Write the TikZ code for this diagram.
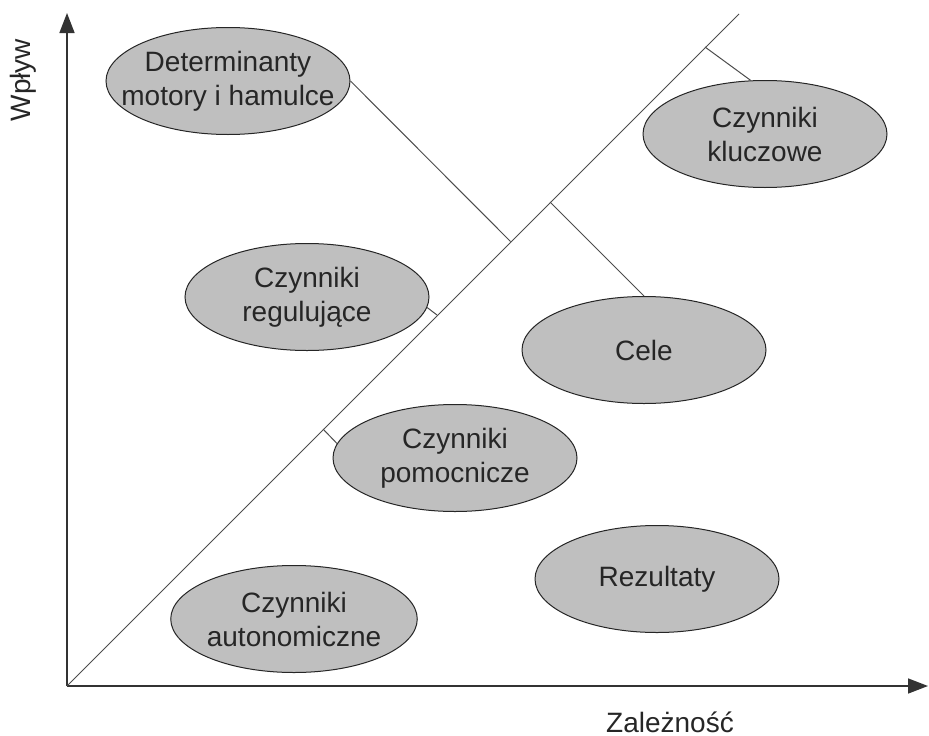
\documentclass[tikz,border=0pt]{standalone}
\usepackage{fontspec}
\setmainfont{Liberation Sans}
\usetikzlibrary{shapes.geometric, arrows.meta}

\def \ellw {244pt}
\def \ellh {107pt}
\tikzstyle{factor}=[ellipse, draw=black!85, fill=black!25, line width=1pt, minimum width=\ellw, minimum height=\ellh, inner sep=0pt, align=center, text=black!85, font=\fontsize{28}{34}\selectfont]
\tikzstyle{link}=[draw=black!70, line width=1pt]
\tikzstyle{axis}=[draw=black!80, line width=1.6pt, -{Triangle[length=20pt, width=15pt]}]
\tikzstyle{annot}=[text=black!85, inner sep=0pt, font=\fontsize{28}{34}\selectfont]

\begin{document}
\begin{tikzpicture}[x=1pt, y=-1pt]
\useasboundingbox (0,0) rectangle (929,736);

% axes and diagonal
\coordinate (O) at (67,686);
\coordinate (Ytop) at (67,13);
\coordinate (Xend) at (928,686);
\coordinate (T) at (739,14);

\draw[axis] (O) -- (Ytop);
\draw[axis] (O) -- (Xend);
\draw[link] (O) -- (T);

\node[annot, rotate=90] (wp) at (23,80) {Wpływ};
\node[annot, anchor=base] (za) at (670,732) {Zależność};

% factors
\node[factor, inner xsep=-21pt] (D) at (228,81) {Determinanty\\motory i hamulce};
\node[factor] (K) at (765,134) {Czynniki\\kluczowe};
\node[factor] (R) at (307,297) {Czynniki\\regulujące};
\node[factor] (C) at (644,350) {Cele};
\node[factor] (P) at (455,458) {Czynniki\\pomocnicze};
\node[factor] (Z) at (657,579) {Rezultaty};
\node[factor] (A) at (294,619) {Czynniki\\autonomiczne};

% feet on the diagonal
\coordinate (dD) at (510.5,241.5);
\coordinate (dK) at (705,47);
\coordinate (dR) at (437,315);
\coordinate (dC) at (550,202);
\coordinate (dP) at (323,429);

\draw[link] (D.east) -- (dD);
\draw[link] (dK) -- (K.105);
\draw[link] (R.-5) -- (dR);
\draw[link] (dC) -- (C.north);
\draw[link] (dP) -- (P.173);

\end{tikzpicture}
\end{document}
